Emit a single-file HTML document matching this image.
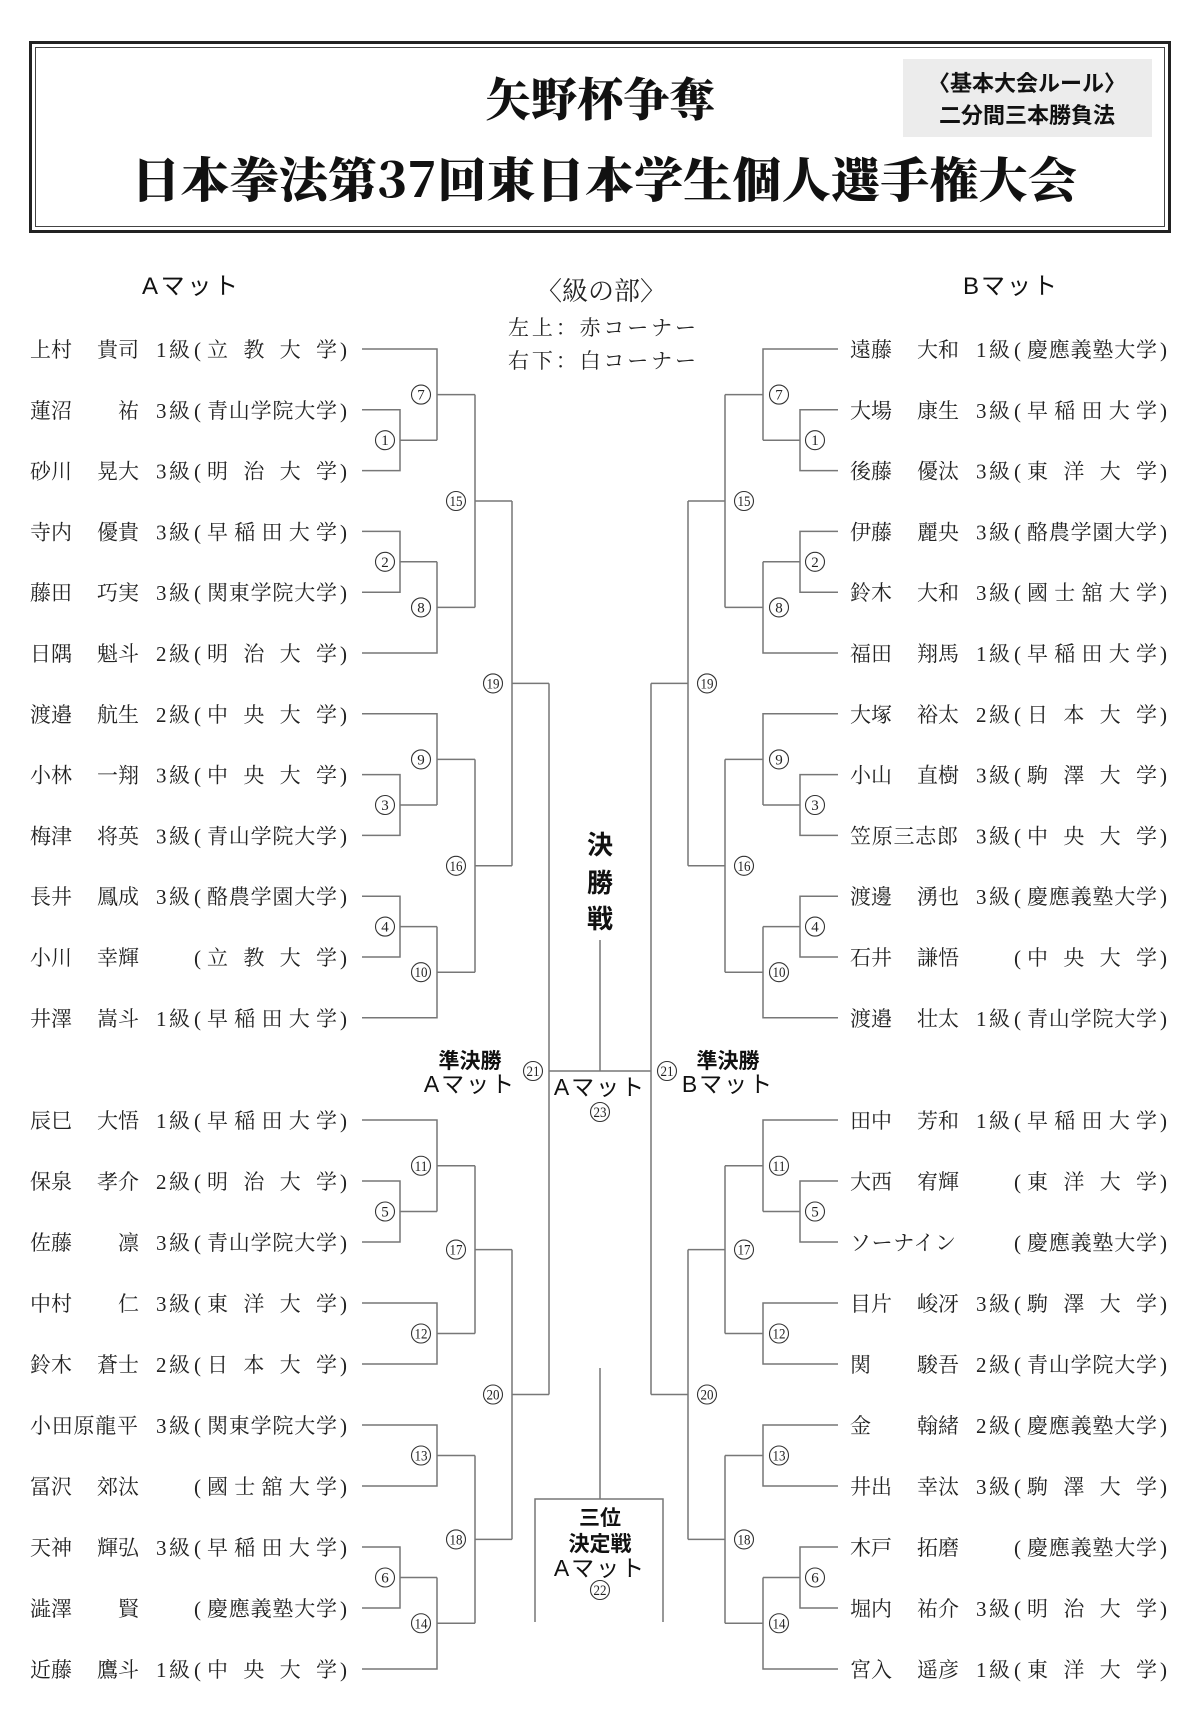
<!DOCTYPE html>
<html><head><meta charset="utf-8">
<style>
html,body{margin:0;padding:0;background:#fff;}
svg{display:block;}
.n{font-family:"Liberation Serif","Noto Serif CJK SC","Noto Serif CJK JP",serif;font-size:21px;fill:#222;}
.s{font-family:"Liberation Sans","Noto Sans CJK JP",sans-serif;fill:#111;}
.c text{font-family:"Liberation Serif",serif;font-size:15px;fill:#222;text-anchor:middle;}
.c circle{fill:#fff;stroke:#333;stroke-width:1.1;}
.ln{fill:none;stroke:#777;stroke-width:1.5;}
.g1{font-family:"Liberation Serif",serif;}
</style></head>
<body>
<svg width="1200" height="1720" viewBox="0 0 1200 1720" xmlns="http://www.w3.org/2000/svg">
<defs>
<g id="rowL"></g>
</defs>
<!-- header -->
<rect x="30.5" y="42.5" width="1139" height="189" fill="none" stroke="#222" stroke-width="3"/>
<rect x="35.5" y="47.5" width="1129" height="179" fill="none" stroke="#444" stroke-width="1"/>
<rect x="903" y="59" width="249" height="78" fill="#ececec"/>
<text class="s" x="1027" y="91" font-size="22" font-weight="bold" text-anchor="middle">〈基本大会ルール〉</text>
<text class="s" x="1027" y="123" font-size="22" font-weight="bold" text-anchor="middle">二分間三本勝負法</text>
<text x="600" y="116" font-family="'Noto Serif CJK SC','Noto Serif CJK JP',serif" font-weight="900" font-size="46" text-anchor="middle" fill="#111">矢野杯争奪</text>
<text x="131" y="197" textLength="946" lengthAdjust="spacingAndGlyphs" font-family="'Noto Serif CJK SC','Noto Serif CJK JP',serif" font-weight="900" font-size="48" fill="#111">日本拳法第37回東日本学生個人選手権大会</text>

<text class="s" x="142" y="294" font-size="24" textLength="96" lengthAdjust="spacing">Aマット</text>
<text class="s" x="963" y="294" font-size="24" textLength="94" lengthAdjust="spacing">Bマット</text>
<text class="n" x="601" y="300" style="font-size:26px" text-anchor="middle">〈級の部〉</text>
<text class="n" x="508" y="335" style="font-size:21px" textLength="188" lengthAdjust="spacing">左上：赤コーナー</text>
<text class="n" x="508" y="368" style="font-size:21px" textLength="188" lengthAdjust="spacing">右下：白コーナー</text>

<!-- center -->
<text class="s" x="600" y="854" font-size="26" font-weight="bold" text-anchor="middle">決</text>
<text class="s" x="600" y="892" font-size="26" font-weight="bold" text-anchor="middle">勝</text>
<text class="s" x="600" y="928" font-size="26" font-weight="bold" text-anchor="middle">戦</text>
<text class="s" x="470" y="1068" font-size="21" font-weight="bold" text-anchor="middle">準決勝</text>
<text class="s" x="470" y="1092" font-size="23" text-anchor="middle" letter-spacing="2">Aマット</text>
<text class="s" x="728" y="1068" font-size="21" font-weight="bold" text-anchor="middle">準決勝</text>
<text class="s" x="728" y="1092" font-size="23" text-anchor="middle" letter-spacing="2">Bマット</text>
<text class="s" x="600" y="1095" font-size="23" text-anchor="middle" letter-spacing="2">Aマット</text>
<text class="s" x="600" y="1525" font-size="21" font-weight="bold" text-anchor="middle">三位</text>
<text class="s" x="600" y="1551" font-size="21" font-weight="bold" text-anchor="middle">決定戦</text>
<text class="s" x="600" y="1576" font-size="23" text-anchor="middle" letter-spacing="2">Aマット</text>

<path class="ln" d="M549 1071H651M600 940V1071M600 1368V1499M535 1622V1499H663V1622"/>

<path id="br" class="ln" d="M362 409.8H400V470.6H362M400 440.2H437M362 349H437V440.2M437 394.6H475
M362 531.4H400V592.2H362M400 561.8H437M362 653H437V561.8M437 607.4H475
M475 394.6V607.4M475 501H512
M362 774.6H400V835.4H362M400 805H437M362 713.8H437V805M437 759.4H475
M362 896.2H400V957H362M400 926.6H437M362 1017.8H437V926.6M437 972.2H475
M475 759.4V972.2M475 865.8H512
M512 501V865.8M512 683.4H549
M362 1181H400V1242H362M400 1211.5H437M362 1120H437V1211.5M437 1165.75H475
M362 1303H437V1364H362M437 1333.5H475
M475 1165.75V1333.5M475 1249.6H512
M362 1425H437V1486H362M437 1455.5H475
M362 1547H400V1608H362M400 1577.5H437M362 1669H437V1577.5M437 1623.25H475
M475 1455.5V1623.25M475 1539.4H512
M512 1249.6V1539.4M512 1394.5H549
M549 683.4V1394.5"/>
<use href="#br" transform="matrix(-1 0 0 1 1200 0)"/>

<!-- circles -->
<g class="c">
<circle cx="385" cy="440.2" r="9.5"/><text x="385" y="445.2">1</text>
<circle cx="421" cy="394.6" r="9.5"/><text x="421" y="399.6">7</text>
<circle cx="385" cy="561.8" r="9.5"/><text x="385" y="566.8">2</text>
<circle cx="421" cy="607.4" r="9.5"/><text x="421" y="612.4">8</text>
<circle cx="456" cy="501" r="9.5"/><text x="456" y="506" textLength="13" lengthAdjust="spacingAndGlyphs">15</text>
<circle cx="385" cy="805" r="9.5"/><text x="385" y="810">3</text>
<circle cx="421" cy="759.4" r="9.5"/><text x="421" y="764.4">9</text>
<circle cx="385" cy="926.6" r="9.5"/><text x="385" y="931.6">4</text>
<circle cx="421" cy="972.2" r="9.5"/><text x="421" y="977.2" textLength="13" lengthAdjust="spacingAndGlyphs">10</text>
<circle cx="456" cy="865.8" r="9.5"/><text x="456" y="870.8" textLength="13" lengthAdjust="spacingAndGlyphs">16</text>
<circle cx="493" cy="683.4" r="9.5"/><text x="493" y="688.4" textLength="13" lengthAdjust="spacingAndGlyphs">19</text>
<circle cx="385" cy="1211.5" r="9.5"/><text x="385" y="1216.5">5</text>
<circle cx="421" cy="1165.75" r="9.5"/><text x="421" y="1170.75" textLength="13" lengthAdjust="spacingAndGlyphs">11</text>
<circle cx="421" cy="1333.5" r="9.5"/><text x="421" y="1338.5" textLength="13" lengthAdjust="spacingAndGlyphs">12</text>
<circle cx="456" cy="1249.6" r="9.5"/><text x="456" y="1254.6" textLength="13" lengthAdjust="spacingAndGlyphs">17</text>
<circle cx="421" cy="1455.5" r="9.5"/><text x="421" y="1460.5" textLength="13" lengthAdjust="spacingAndGlyphs">13</text>
<circle cx="385" cy="1577.5" r="9.5"/><text x="385" y="1582.5">6</text>
<circle cx="421" cy="1623.25" r="9.5"/><text x="421" y="1628.25" textLength="13" lengthAdjust="spacingAndGlyphs">14</text>
<circle cx="456" cy="1539.4" r="9.5"/><text x="456" y="1544.4" textLength="13" lengthAdjust="spacingAndGlyphs">18</text>
<circle cx="493" cy="1394.5" r="9.5"/><text x="493" y="1399.5" textLength="13" lengthAdjust="spacingAndGlyphs">20</text>
<circle cx="533" cy="1071" r="9.5"/><text x="533" y="1076" textLength="13" lengthAdjust="spacingAndGlyphs">21</text>

<circle cx="815" cy="440.2" r="9.5"/><text x="815" y="445.2">1</text>
<circle cx="779" cy="394.6" r="9.5"/><text x="779" y="399.6">7</text>
<circle cx="815" cy="561.8" r="9.5"/><text x="815" y="566.8">2</text>
<circle cx="779" cy="607.4" r="9.5"/><text x="779" y="612.4">8</text>
<circle cx="744" cy="501" r="9.5"/><text x="744" y="506" textLength="13" lengthAdjust="spacingAndGlyphs">15</text>
<circle cx="815" cy="805" r="9.5"/><text x="815" y="810">3</text>
<circle cx="779" cy="759.4" r="9.5"/><text x="779" y="764.4">9</text>
<circle cx="815" cy="926.6" r="9.5"/><text x="815" y="931.6">4</text>
<circle cx="779" cy="972.2" r="9.5"/><text x="779" y="977.2" textLength="13" lengthAdjust="spacingAndGlyphs">10</text>
<circle cx="744" cy="865.8" r="9.5"/><text x="744" y="870.8" textLength="13" lengthAdjust="spacingAndGlyphs">16</text>
<circle cx="707" cy="683.4" r="9.5"/><text x="707" y="688.4" textLength="13" lengthAdjust="spacingAndGlyphs">19</text>
<circle cx="815" cy="1211.5" r="9.5"/><text x="815" y="1216.5">5</text>
<circle cx="779" cy="1165.75" r="9.5"/><text x="779" y="1170.75" textLength="13" lengthAdjust="spacingAndGlyphs">11</text>
<circle cx="779" cy="1333.5" r="9.5"/><text x="779" y="1338.5" textLength="13" lengthAdjust="spacingAndGlyphs">12</text>
<circle cx="744" cy="1249.6" r="9.5"/><text x="744" y="1254.6" textLength="13" lengthAdjust="spacingAndGlyphs">17</text>
<circle cx="779" cy="1455.5" r="9.5"/><text x="779" y="1460.5" textLength="13" lengthAdjust="spacingAndGlyphs">13</text>
<circle cx="815" cy="1577.5" r="9.5"/><text x="815" y="1582.5">6</text>
<circle cx="779" cy="1623.25" r="9.5"/><text x="779" y="1628.25" textLength="13" lengthAdjust="spacingAndGlyphs">14</text>
<circle cx="744" cy="1539.4" r="9.5"/><text x="744" y="1544.4" textLength="13" lengthAdjust="spacingAndGlyphs">18</text>
<circle cx="707" cy="1394.5" r="9.5"/><text x="707" y="1399.5" textLength="13" lengthAdjust="spacingAndGlyphs">20</text>
<circle cx="667" cy="1071" r="9.5"/><text x="667" y="1076" textLength="13" lengthAdjust="spacingAndGlyphs">21</text>

<circle cx="600" cy="1112" r="9.5"/><text x="600" y="1117" textLength="13" lengthAdjust="spacingAndGlyphs">23</text>
<circle cx="600" cy="1590" r="9.5"/><text x="600" y="1595" textLength="13" lengthAdjust="spacingAndGlyphs">22</text>
</g>

<!-- LEFT rows -->
<g class="n">
<g transform="translate(0,349)"><text x="30" y="8">上村</text><text x="139" y="8" text-anchor="end">貴司</text><text x="156" y="8">1</text><text x="169" y="8">級</text><text x="194" y="8">(</text><text x="207" y="8" textLength="130" lengthAdjust="spacing">立教大学</text><text x="340" y="8">)</text></g>
<g transform="translate(0,409.8)"><text x="30" y="8">蓮沼</text><text x="139" y="8" text-anchor="end">祐</text><text x="156" y="8">3</text><text x="169" y="8">級</text><text x="194" y="8">(</text><text x="207" y="8" textLength="130" lengthAdjust="spacing">青山学院大学</text><text x="340" y="8">)</text></g>
<g transform="translate(0,470.6)"><text x="30" y="8">砂川</text><text x="139" y="8" text-anchor="end">晃大</text><text x="156" y="8">3</text><text x="169" y="8">級</text><text x="194" y="8">(</text><text x="207" y="8" textLength="130" lengthAdjust="spacing">明治大学</text><text x="340" y="8">)</text></g>
<g transform="translate(0,531.4)"><text x="30" y="8">寺内</text><text x="139" y="8" text-anchor="end">優貴</text><text x="156" y="8">3</text><text x="169" y="8">級</text><text x="194" y="8">(</text><text x="207" y="8" textLength="130" lengthAdjust="spacing">早稲田大学</text><text x="340" y="8">)</text></g>
<g transform="translate(0,592.2)"><text x="30" y="8">藤田</text><text x="139" y="8" text-anchor="end">巧実</text><text x="156" y="8">3</text><text x="169" y="8">級</text><text x="194" y="8">(</text><text x="207" y="8" textLength="130" lengthAdjust="spacing">関東学院大学</text><text x="340" y="8">)</text></g>
<g transform="translate(0,653)"><text x="30" y="8">日隅</text><text x="139" y="8" text-anchor="end">魁斗</text><text x="156" y="8">2</text><text x="169" y="8">級</text><text x="194" y="8">(</text><text x="207" y="8" textLength="130" lengthAdjust="spacing">明治大学</text><text x="340" y="8">)</text></g>
<g transform="translate(0,713.8)"><text x="30" y="8">渡邉</text><text x="139" y="8" text-anchor="end">航生</text><text x="156" y="8">2</text><text x="169" y="8">級</text><text x="194" y="8">(</text><text x="207" y="8" textLength="130" lengthAdjust="spacing">中央大学</text><text x="340" y="8">)</text></g>
<g transform="translate(0,774.6)"><text x="30" y="8">小林</text><text x="139" y="8" text-anchor="end">一翔</text><text x="156" y="8">3</text><text x="169" y="8">級</text><text x="194" y="8">(</text><text x="207" y="8" textLength="130" lengthAdjust="spacing">中央大学</text><text x="340" y="8">)</text></g>
<g transform="translate(0,835.4)"><text x="30" y="8">梅津</text><text x="139" y="8" text-anchor="end">将英</text><text x="156" y="8">3</text><text x="169" y="8">級</text><text x="194" y="8">(</text><text x="207" y="8" textLength="130" lengthAdjust="spacing">青山学院大学</text><text x="340" y="8">)</text></g>
<g transform="translate(0,896.2)"><text x="30" y="8">長井</text><text x="139" y="8" text-anchor="end">鳳成</text><text x="156" y="8">3</text><text x="169" y="8">級</text><text x="194" y="8">(</text><text x="207" y="8" textLength="130" lengthAdjust="spacing">酪農学園大学</text><text x="340" y="8">)</text></g>
<g transform="translate(0,957)"><text x="30" y="8">小川</text><text x="139" y="8" text-anchor="end">幸輝</text><text x="194" y="8">(</text><text x="207" y="8" textLength="130" lengthAdjust="spacing">立教大学</text><text x="340" y="8">)</text></g>
<g transform="translate(0,1017.8)"><text x="30" y="8">井澤</text><text x="139" y="8" text-anchor="end">嵩斗</text><text x="156" y="8">1</text><text x="169" y="8">級</text><text x="194" y="8">(</text><text x="207" y="8" textLength="130" lengthAdjust="spacing">早稲田大学</text><text x="340" y="8">)</text></g>
<g transform="translate(0,1120)"><text x="30" y="8">辰巳</text><text x="139" y="8" text-anchor="end">大悟</text><text x="156" y="8">1</text><text x="169" y="8">級</text><text x="194" y="8">(</text><text x="207" y="8" textLength="130" lengthAdjust="spacing">早稲田大学</text><text x="340" y="8">)</text></g>
<g transform="translate(0,1181)"><text x="30" y="8">保泉</text><text x="139" y="8" text-anchor="end">孝介</text><text x="156" y="8">2</text><text x="169" y="8">級</text><text x="194" y="8">(</text><text x="207" y="8" textLength="130" lengthAdjust="spacing">明治大学</text><text x="340" y="8">)</text></g>
<g transform="translate(0,1242)"><text x="30" y="8">佐藤</text><text x="139" y="8" text-anchor="end">凛</text><text x="156" y="8">3</text><text x="169" y="8">級</text><text x="194" y="8">(</text><text x="207" y="8" textLength="130" lengthAdjust="spacing">青山学院大学</text><text x="340" y="8">)</text></g>
<g transform="translate(0,1303)"><text x="30" y="8">中村</text><text x="139" y="8" text-anchor="end">仁</text><text x="156" y="8">3</text><text x="169" y="8">級</text><text x="194" y="8">(</text><text x="207" y="8" textLength="130" lengthAdjust="spacing">東洋大学</text><text x="340" y="8">)</text></g>
<g transform="translate(0,1364)"><text x="30" y="8">鈴木</text><text x="139" y="8" text-anchor="end">蒼士</text><text x="156" y="8">2</text><text x="169" y="8">級</text><text x="194" y="8">(</text><text x="207" y="8" textLength="130" lengthAdjust="spacing">日本大学</text><text x="340" y="8">)</text></g>
<g transform="translate(0,1425)"><text x="30" y="8" textLength="108" lengthAdjust="spacing">小田原龍平</text><text x="156" y="8">3</text><text x="169" y="8">級</text><text x="194" y="8">(</text><text x="207" y="8" textLength="130" lengthAdjust="spacing">関東学院大学</text><text x="340" y="8">)</text></g>
<g transform="translate(0,1486)"><text x="30" y="8">冨沢</text><text x="139" y="8" text-anchor="end">郊汰</text><text x="194" y="8">(</text><text x="207" y="8" textLength="130" lengthAdjust="spacing">國士舘大学</text><text x="340" y="8">)</text></g>
<g transform="translate(0,1547)"><text x="30" y="8">天神</text><text x="139" y="8" text-anchor="end">輝弘</text><text x="156" y="8">3</text><text x="169" y="8">級</text><text x="194" y="8">(</text><text x="207" y="8" textLength="130" lengthAdjust="spacing">早稲田大学</text><text x="340" y="8">)</text></g>
<g transform="translate(0,1608)"><text x="30" y="8">澁澤</text><text x="139" y="8" text-anchor="end">賢</text><text x="194" y="8">(</text><text x="207" y="8" textLength="130" lengthAdjust="spacing">慶應義塾大学</text><text x="340" y="8">)</text></g>
<g transform="translate(0,1669)"><text x="30" y="8">近藤</text><text x="139" y="8" text-anchor="end">鷹斗</text><text x="156" y="8">1</text><text x="169" y="8">級</text><text x="194" y="8">(</text><text x="207" y="8" textLength="130" lengthAdjust="spacing">中央大学</text><text x="340" y="8">)</text></g>
</g>

<!-- RIGHT rows -->
<g class="n">
<g transform="translate(820,349)"><text x="30" y="8">遠藤</text><text x="139" y="8" text-anchor="end">大和</text><text x="156" y="8">1</text><text x="169" y="8">級</text><text x="194" y="8">(</text><text x="207" y="8" textLength="130" lengthAdjust="spacing">慶應義塾大学</text><text x="340" y="8">)</text></g>
<g transform="translate(820,409.8)"><text x="30" y="8">大場</text><text x="139" y="8" text-anchor="end">康生</text><text x="156" y="8">3</text><text x="169" y="8">級</text><text x="194" y="8">(</text><text x="207" y="8" textLength="130" lengthAdjust="spacing">早稲田大学</text><text x="340" y="8">)</text></g>
<g transform="translate(820,470.6)"><text x="30" y="8">後藤</text><text x="139" y="8" text-anchor="end">優汰</text><text x="156" y="8">3</text><text x="169" y="8">級</text><text x="194" y="8">(</text><text x="207" y="8" textLength="130" lengthAdjust="spacing">東洋大学</text><text x="340" y="8">)</text></g>
<g transform="translate(820,531.4)"><text x="30" y="8">伊藤</text><text x="139" y="8" text-anchor="end">麗央</text><text x="156" y="8">3</text><text x="169" y="8">級</text><text x="194" y="8">(</text><text x="207" y="8" textLength="130" lengthAdjust="spacing">酪農学園大学</text><text x="340" y="8">)</text></g>
<g transform="translate(820,592.2)"><text x="30" y="8">鈴木</text><text x="139" y="8" text-anchor="end">大和</text><text x="156" y="8">3</text><text x="169" y="8">級</text><text x="194" y="8">(</text><text x="207" y="8" textLength="130" lengthAdjust="spacing">國士舘大学</text><text x="340" y="8">)</text></g>
<g transform="translate(820,653)"><text x="30" y="8">福田</text><text x="139" y="8" text-anchor="end">翔馬</text><text x="156" y="8">1</text><text x="169" y="8">級</text><text x="194" y="8">(</text><text x="207" y="8" textLength="130" lengthAdjust="spacing">早稲田大学</text><text x="340" y="8">)</text></g>
<g transform="translate(820,713.8)"><text x="30" y="8">大塚</text><text x="139" y="8" text-anchor="end">裕太</text><text x="156" y="8">2</text><text x="169" y="8">級</text><text x="194" y="8">(</text><text x="207" y="8" textLength="130" lengthAdjust="spacing">日本大学</text><text x="340" y="8">)</text></g>
<g transform="translate(820,774.6)"><text x="30" y="8">小山</text><text x="139" y="8" text-anchor="end">直樹</text><text x="156" y="8">3</text><text x="169" y="8">級</text><text x="194" y="8">(</text><text x="207" y="8" textLength="130" lengthAdjust="spacing">駒澤大学</text><text x="340" y="8">)</text></g>
<g transform="translate(820,835.4)"><text x="30" y="8" textLength="108" lengthAdjust="spacing">笠原三志郎</text><text x="156" y="8">3</text><text x="169" y="8">級</text><text x="194" y="8">(</text><text x="207" y="8" textLength="130" lengthAdjust="spacing">中央大学</text><text x="340" y="8">)</text></g>
<g transform="translate(820,896.2)"><text x="30" y="8">渡邊</text><text x="139" y="8" text-anchor="end">湧也</text><text x="156" y="8">3</text><text x="169" y="8">級</text><text x="194" y="8">(</text><text x="207" y="8" textLength="130" lengthAdjust="spacing">慶應義塾大学</text><text x="340" y="8">)</text></g>
<g transform="translate(820,957)"><text x="30" y="8">石井</text><text x="139" y="8" text-anchor="end">謙悟</text><text x="194" y="8">(</text><text x="207" y="8" textLength="130" lengthAdjust="spacing">中央大学</text><text x="340" y="8">)</text></g>
<g transform="translate(820,1017.8)"><text x="30" y="8">渡邉</text><text x="139" y="8" text-anchor="end">壮太</text><text x="156" y="8">1</text><text x="169" y="8">級</text><text x="194" y="8">(</text><text x="207" y="8" textLength="130" lengthAdjust="spacing">青山学院大学</text><text x="340" y="8">)</text></g>
<g transform="translate(820,1120)"><text x="30" y="8">田中</text><text x="139" y="8" text-anchor="end">芳和</text><text x="156" y="8">1</text><text x="169" y="8">級</text><text x="194" y="8">(</text><text x="207" y="8" textLength="130" lengthAdjust="spacing">早稲田大学</text><text x="340" y="8">)</text></g>
<g transform="translate(820,1181)"><text x="30" y="8">大西</text><text x="139" y="8" text-anchor="end">宥輝</text><text x="194" y="8">(</text><text x="207" y="8" textLength="130" lengthAdjust="spacing">東洋大学</text><text x="340" y="8">)</text></g>
<g transform="translate(820,1242)"><text x="30" y="8" textLength="106" lengthAdjust="spacing">ソーナイン</text><text x="194" y="8">(</text><text x="207" y="8" textLength="130" lengthAdjust="spacing">慶應義塾大学</text><text x="340" y="8">)</text></g>
<g transform="translate(820,1303)"><text x="30" y="8">目片</text><text x="139" y="8" text-anchor="end">峻冴</text><text x="156" y="8">3</text><text x="169" y="8">級</text><text x="194" y="8">(</text><text x="207" y="8" textLength="130" lengthAdjust="spacing">駒澤大学</text><text x="340" y="8">)</text></g>
<g transform="translate(820,1364)"><text x="30" y="8">関</text><text x="139" y="8" text-anchor="end">駿吾</text><text x="156" y="8">2</text><text x="169" y="8">級</text><text x="194" y="8">(</text><text x="207" y="8" textLength="130" lengthAdjust="spacing">青山学院大学</text><text x="340" y="8">)</text></g>
<g transform="translate(820,1425)"><text x="30" y="8">金</text><text x="139" y="8" text-anchor="end">翰緒</text><text x="156" y="8">2</text><text x="169" y="8">級</text><text x="194" y="8">(</text><text x="207" y="8" textLength="130" lengthAdjust="spacing">慶應義塾大学</text><text x="340" y="8">)</text></g>
<g transform="translate(820,1486)"><text x="30" y="8">井出</text><text x="139" y="8" text-anchor="end">幸汰</text><text x="156" y="8">3</text><text x="169" y="8">級</text><text x="194" y="8">(</text><text x="207" y="8" textLength="130" lengthAdjust="spacing">駒澤大学</text><text x="340" y="8">)</text></g>
<g transform="translate(820,1547)"><text x="30" y="8">木戸</text><text x="139" y="8" text-anchor="end">拓磨</text><text x="194" y="8">(</text><text x="207" y="8" textLength="130" lengthAdjust="spacing">慶應義塾大学</text><text x="340" y="8">)</text></g>
<g transform="translate(820,1608)"><text x="30" y="8">堀内</text><text x="139" y="8" text-anchor="end">祐介</text><text x="156" y="8">3</text><text x="169" y="8">級</text><text x="194" y="8">(</text><text x="207" y="8" textLength="130" lengthAdjust="spacing">明治大学</text><text x="340" y="8">)</text></g>
<g transform="translate(820,1669)"><text x="30" y="8">宮入</text><text x="139" y="8" text-anchor="end">遥彦</text><text x="156" y="8">1</text><text x="169" y="8">級</text><text x="194" y="8">(</text><text x="207" y="8" textLength="130" lengthAdjust="spacing">東洋大学</text><text x="340" y="8">)</text></g>
</g>
</svg>
</body></html>
